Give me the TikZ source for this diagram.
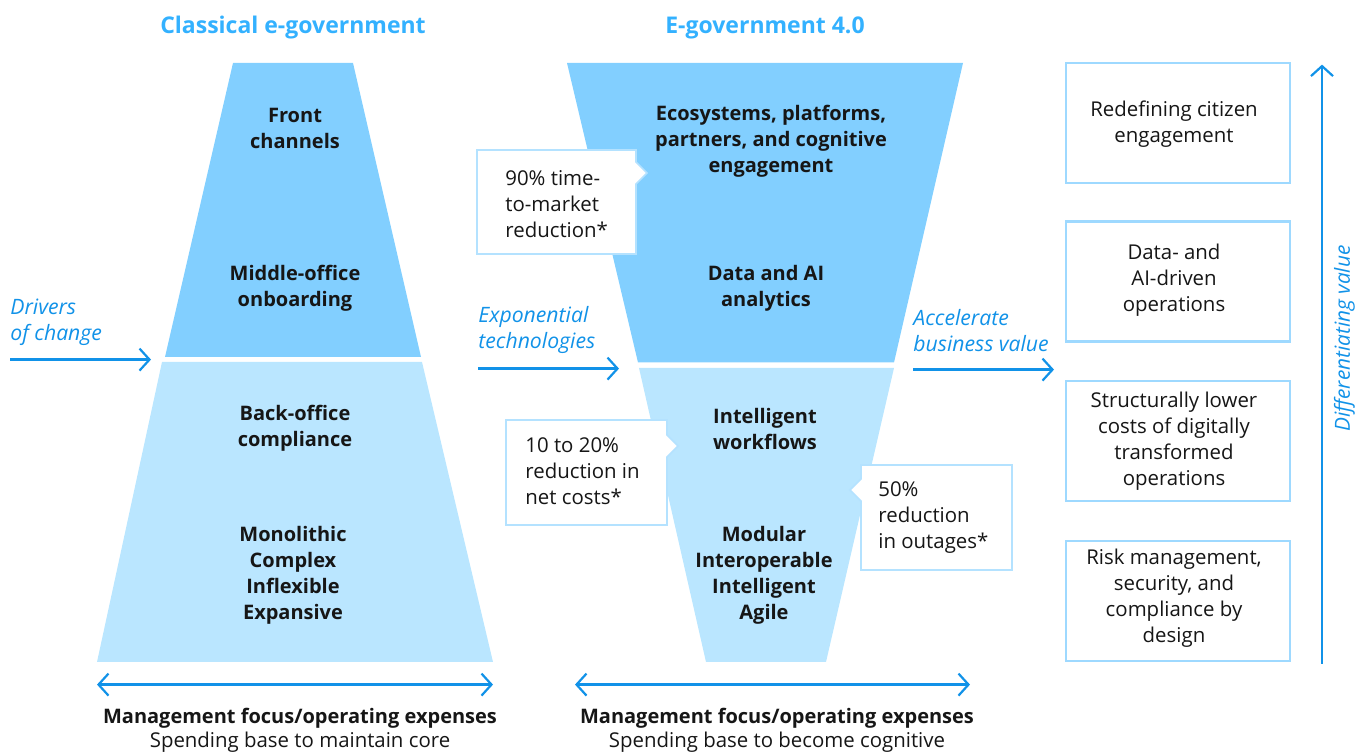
\documentclass[tikz,border=0pt]{standalone}
\usepackage{fontspec}
\setmainfont{Open Sans}
\usetikzlibrary{arrows.meta}
\definecolor{dark}{HTML}{82CFFF}
\definecolor{light}{HTML}{BAE6FF}
\definecolor{arr}{HTML}{1192E8}
\definecolor{ttl}{HTML}{33B1FF}
\definecolor{txt}{HTML}{161616}
\definecolor{bord}{HTML}{9ED9FF}
\definecolor{cbord}{HTML}{B4E2FF}
\begin{document}
\begin{tikzpicture}[x=0.5pt,y=-0.5pt,
  every node/.style={text=txt, inner sep=0pt, yshift=-0.8pt},
  body/.style={font=\fontsize{10}{13}\selectfont\bfseries, align=center},
  plain/.style={font=\fontsize{10.2}{13}\selectfont, align=center},
  cltext/.style={font=\fontsize{10.2}{13}\selectfont, align=left, anchor=west},
  ital/.style={font=\fontsize{10.6}{13}\selectfont\itshape, text=arr, align=left, anchor=west},
  title/.style={font=\fontsize{11.5}{13}\selectfont\bfseries, text=ttl},
  flow/.style={draw=arr, line width=1.1pt, -{Straight Barb[length=5pt,width=11pt,line width=1.1pt]}},
  span/.style={draw=arr, line width=1.1pt, {Straight Barb[length=5pt,width=11pt,line width=1.1pt]}-{Straight Barb[length=5pt,width=11pt,line width=1.1pt]}},
  valbox/.style={draw=bord, line width=1.2pt, fill=white, minimum width=112pt, minimum height=60pt, yshift=0.8pt},
  callout/.style={draw=cbord, line width=0.8pt, fill=white}]
\useasboundingbox (0,0) rectangle (1367,753);

% titles
\node[title] (t1) at (293,26) {Classical e-government};
\node[title] (t2) at (765,26) {E-government 4.0};

% left trapezoid
\fill[dark] (233,63) -- (353,63) -- (421,357) -- (165,357) -- cycle;
\fill[light] (162,362) -- (422,362) -- (493,662) -- (97,662) -- cycle;

% middle funnel
\fill[dark] (567,63) -- (963,63) -- (894,362.5) -- (638,362.5) -- cycle;
\fill[light] (639,368) -- (894,368) -- (826,662) -- (706,662) -- cycle;

% left texts
\node[body] (l1) at (295,127) {Front\\channels};
\node[body] (l2) at (295,286.5) {Middle-office\\onboarding};
\node[body] (l3) at (295,427) {Back-office\\compliance};
\node[body] (l4) at (293,573.5) {Monolithic\\Complex\\Inflexible\\Expansive};

% middle texts
\node[body] (m1) at (771,140) {Ecosystems, platforms,\\partners, and cognitive\\engagement};
\node[body] (m2) at (766,286.5) {Data and AI\\analytics};
\node[body] (m3) at (765,427) {Intelligent\\workflows};
\node[body] (m4) at (764,573.5) {Modular\\Interoperable\\Intelligent\\Agile};

% callouts
\draw[callout] (477,150) -- (636,150) -- (636,162) -- (647,173) -- (636,184) -- (636,254) -- (477,254) -- cycle;
\node[cltext] (c1) at (505,203) {90\% time-\\to-market\\reduction*};
\draw[callout] (506,420) -- (667,420) -- (667,435) -- (678,446) -- (667,457) -- (667,525) -- (506,525) -- cycle;
\node[cltext] (c2) at (525,470) {10 to 20\%\\reduction in\\net costs*};
\draw[callout] (861,465) -- (1012,465) -- (1012,570) -- (861,570) -- (861,501) -- (850,490) -- (861,479) -- cycle;
\node[cltext] (c3) at (878,515.5) {50\%\\reduction\\in outages*};

% right boxes
\node[valbox] (r1) at (1178,123) {};
\node[valbox] (r2) at (1178,281.5) {};
\node[valbox] (r3) at (1178,441) {};
\node[valbox] (r4) at (1178,601) {};
\node[plain] (r1t) at (1174,122.5) {Redefining citizen\\engagement};
\node[plain] (r2t) at (1174,279) {Data- and\\AI-driven\\operations};
\node[plain] (r3t) at (1174,440) {Structurally lower\\costs of digitally\\transformed\\operations};
\node[plain] (r4t) at (1174,597) {Risk management,\\security, and\\compliance by\\design};

% arrows
\coordinate (d0) at (10,358);
\coordinate (d1) at (151,358);
\draw[flow] (d0) -- (d1);
\coordinate (e0) at (478,367);
\coordinate (e1) at (619,367);
\draw[flow] (e0) -- (e1);
\coordinate (a0) at (913,368);
\coordinate (a1) at (1054,368);
\draw[flow] (a0) -- (a1);
\coordinate (v0) at (1322,662);
\coordinate (v1) at (1322,63);
\draw[flow] (v0) -- (v1);
\coordinate (s0) at (97,683);
\coordinate (s1) at (493,683);
\draw[span] (s0) -- (s1);
\coordinate (s2) at (575,683);
\coordinate (s3) at (970,683);
\draw[span] (s2) -- (s3);

% italic labels
\node[ital] (dl) at (10,321) {Drivers\\of change};
\node[ital] (el) at (478,328.5) {Exponential\\technologies};
\node[ital] (al) at (913,328.5) {Accelerate\\business value};
\node[font=\fontsize{10.4}{13}\selectfont\itshape, text=arr, rotate=90, yshift=0.8pt] (vl) at (1346,337) {Differentiating value};

% bottom texts
\node[body] (b1) at (300,717) {Management focus/operating expenses};
\node[plain] (b2) at (300,741) {Spending base to maintain core};
\node[body] (b3) at (777,717) {Management focus/operating expenses};
\node[plain] (b4) at (777,741) {Spending base to become cognitive};
\end{tikzpicture}
\end{document}
